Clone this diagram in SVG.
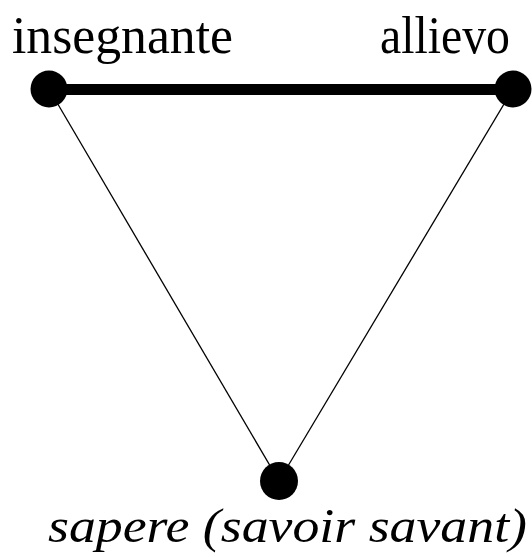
<svg xmlns="http://www.w3.org/2000/svg" width="532" height="557" viewBox="0 0 532 557">
<style>
.lbl{font-family:"Liberation Serif","Times New Roman",serif;font-size:52px;fill:#000}
.it{font-style:italic;font-size:48px}
.dot{fill:#000}
.thin{stroke:#000;stroke-width:1.3;fill:none}
.thick{stroke:#000;stroke-width:11;fill:none}
</style>
<rect width="532" height="557" fill="#fff"/>
<g id="connectors">
<line class="thick" x1="49" y1="89.5" x2="513" y2="89.5"/>
<line class="thin" x1="49" y1="89" x2="279" y2="481"/>
<line class="thin" x1="513" y1="89" x2="279" y2="481"/>
</g>
<g id="insegnante">
<circle class="dot" cx="49" cy="89" r="18.5"/>
<text class="lbl" x="12" y="53" textLength="221" lengthAdjust="spacingAndGlyphs">insegnante</text>
</g>
<g id="allievo">
<circle class="dot" cx="513" cy="89" r="18.5"/>
<text class="lbl" x="380" y="53" textLength="130" lengthAdjust="spacingAndGlyphs">allievo</text>
</g>
<g id="sapere">
<circle class="dot" cx="279" cy="481" r="19"/>
<text class="lbl it" x="48" y="542" textLength="479" lengthAdjust="spacingAndGlyphs">sapere (savoir savant)</text>
</g>
</svg>
